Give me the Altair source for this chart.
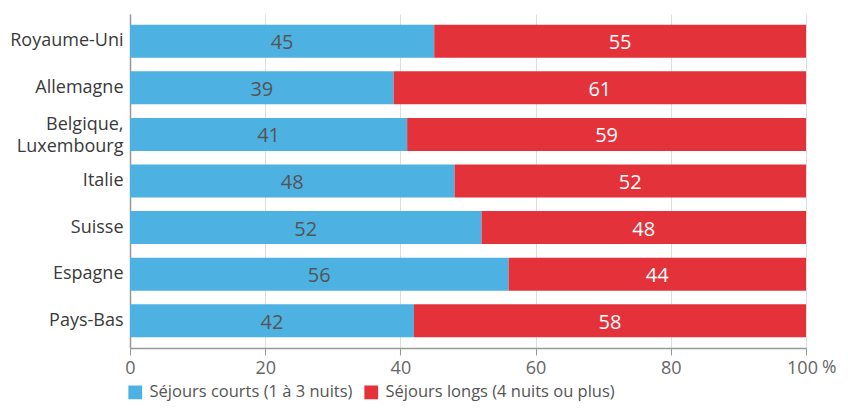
import altair as alt
import pandas as pd

countries = ["Royaume-Uni", "Allemagne", "Belgique,|Luxembourg", "Italie", "Suisse", "Espagne", "Pays-Bas"]
courts = [45, 39, 41, 48, 52, 56, 42]
longs = [55, 61, 59, 52, 48, 44, 58]
series = ["Séjours courts (1 à 3 nuits)", "Séjours longs (4 nuits ou plus)"]
colors = ["#4DB1E1", "#E4323B"]
ticks = [0, 20, 40, 60, 80, 100]

rows = []
for i, c in enumerate(countries):
    rows.append({"pays": c, "serie": series[0], "val": courts[i], "start": 0, "end": courts[i], "ord": 0})
    rows.append({"pays": c, "serie": series[1], "val": longs[i], "start": courts[i], "end": courts[i] + longs[i], "ord": 1})
df = pd.DataFrame(rows)
df["mid"] = (df["start"] + df["end"]) / 2
df["tcol"] = df["ord"].map({0: "#555555", 1: "#ffffff"})

FONT = "Open Sans"

y = alt.Y("pays:N", sort=countries, title=None,
          scale=alt.Scale(paddingInner=0.29, paddingOuter=0.23),
          axis=alt.Axis(labelExpr="split(datum.label, '|')", labelFontSize=18, labelColor="#3a3a3a",
                        labelFont=FONT, ticks=False, domainColor="#999999", domainWidth=1.5,
                        labelPadding=7, labelLineHeight=22,
                        labelOffset={"condition": {"test": "indexof(datum.value, '|') >= 0", "value": -9},
                                     "value": 0}))

bars = alt.Chart(df).mark_bar().encode(
    x=alt.X("start:Q", scale=alt.Scale(domain=[0, 100]), title=None,
            axis=alt.Axis(values=ticks, labelFontSize=18, labelColor="#666666", labelFont=FONT,
                          labelFlush=False,
                          labelOffset={"condition": {"test": "datum.value == 100", "value": -4},
                                       "value": 0},
                          grid=True, gridColor="#dddddd", domainColor="#999999", domainWidth=1.5,
                          tickColor="#999999", tickSize=7, labelPadding=4)),
    x2="end:Q",
    y=y,
    color=alt.Color("serie:N", scale=alt.Scale(domain=series, range=colors),
                    legend=alt.Legend(title=None, orient="none", legendX=-3, legendY=370,
                                      direction="horizontal", symbolType="square", symbolSize=190,
                                      symbolStrokeWidth=0, labelFontSize=16.5, labelColor="#555555",
                                      labelFont=FONT, columnPadding=10, labelOffset=6, labelLimit=0)),
    order="ord:Q",
)

labels = alt.Chart(df).mark_text(fontSize=20, font=FONT, baseline="middle", dy=2).encode(
    x="mid:Q",
    y=alt.Y("pays:N", sort=countries),
    text="val:Q",
    color=alt.Color("tcol:N", scale=None),
)

pct = alt.Chart(pd.DataFrame({"x": [100], "t": ["%"]})).mark_text(
    fontSize=17.5, font=FONT, color="#666666", align="left", baseline="top", dx=16, dy=11
).encode(x="x:Q", y=alt.value(334), text="t:N")

chart = alt.layer(bars, labels, pct).properties(
    width=676, height=334,
    autosize=alt.AutoSizeParams(type="none"),
    padding={"left": 122, "top": 6, "right": 34, "bottom": 54},
).configure_view(stroke=None)

chart.save("out.html", embed_options={"renderer": "svg", "actions": False})
